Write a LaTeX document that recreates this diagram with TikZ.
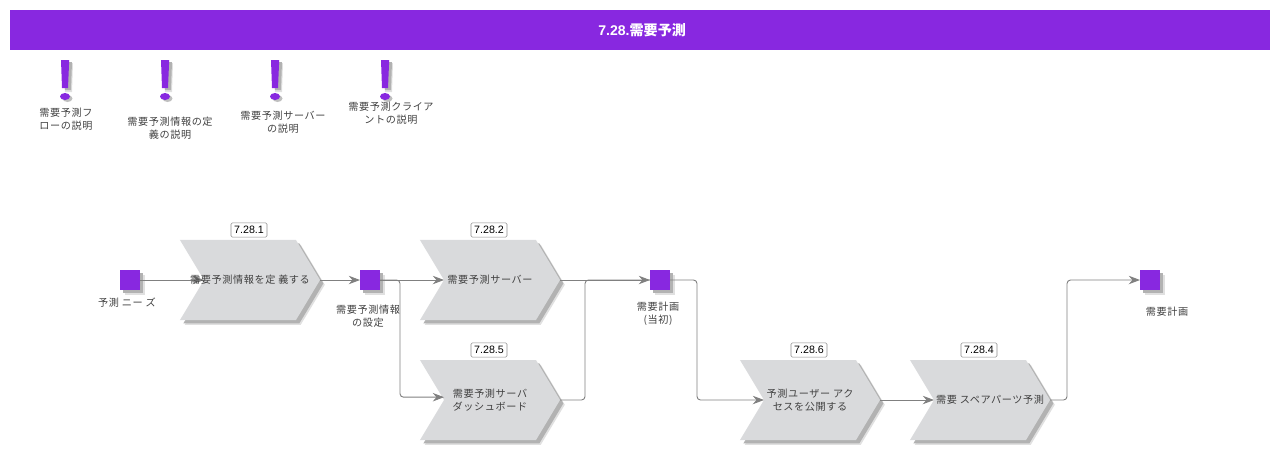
\documentclass[tikz,border=0pt]{standalone}
\usepackage{fontspec}
\setmainfont{Liberation Sans}
\newfontfamily\cjk[LetterSpace=6]{Noto Sans CJK JP}
\newfontfamily\cjktitle{Noto Sans CJK JP}
\usetikzlibrary{shapes.symbols, shadows, arrows.meta}
\definecolor{violetfill}{HTML}{8828E0}
\definecolor{chevrongray}{HTML}{D9DADC}
\definecolor{linegray}{HTML}{808080}
\tikzset{
    softshadow/.style={
        general shadow={shadow xshift=3.4pt, shadow yshift=-3.4pt, fill=black!12},
        general shadow={shadow xshift=2.4pt, shadow yshift=-2.4pt, fill=black!30}},
    chevron/.style={signal, signal to=east, signal from=west, signal pointer angle=118,
        fill=chevrongray, softshadow, minimum width=3.5cm, minimum height=2cm,
        inner sep=0pt, outer sep=0pt},
    chevrontext/.style={align=center, inner sep=0pt, font=\cjk\fontsize{7.2}{9.2}\selectfont, text=black!75},
    event/.style={fill=violetfill, softshadow, minimum size=0.5cm, inner sep=0pt, outer sep=0pt},
    caption/.style={align=center, inner sep=0pt},
    tag/.style={draw=black!45, fill=white, rounded corners=1pt, minimum width=0.9cm, minimum height=0.36cm,
        inner sep=0pt, font=\fontsize{7.6}{9}\selectfont, text=black},
    flow/.style={draw=linegray, line width=0.65pt, rounded corners=2.5pt, -{Stealth[length=8pt, width=6pt]}},
    flowplain/.style={draw=linegray, line width=0.65pt, rounded corners=2.5pt}
}
\begin{document}
\begin{tikzpicture}[x=0.025cm, y=-0.025cm, every node/.style={font=\cjk\fontsize{7.2}{9.2}\selectfont, text=black!75}]
    \useasboundingbox (0,0) rectangle (1280,450);

    % Title bar
    \node[fill=violetfill, minimum width=31.5cm, minimum height=1cm, inner sep=0pt, text=white,
        font=\bfseries\fontsize{10}{12}\selectfont] (title) at (640,30) {\hspace{3pt}7.28.{\cjktitle 需要予測}};

    % Exclamation marks
    \foreach \x in {65, 165, 275, 385} {
        \fill[black!12] (\x-2,63) -- (\x+8,63) -- (\x+7,92) -- (\x,92) -- cycle;
        \fill[black!30] (\x-1,62) -- (\x+7,62) -- (\x+6,90) -- (\x,90) -- cycle;
        \fill[black!25] (\x+2.5,98.5) ellipse (5 and 3.5);
        \fill[violetfill] (\x-4,60) -- (\x+4.2,60) -- (\x+3,88) -- (\x-3,88) -- cycle;
        \fill[violetfill] (\x,96.5) ellipse (5 and 3.5);
    }

    % Notes below the marks
    \node[caption] (note1) at (66,119.5) {需要予測フ\\ローの説明};
    \node[caption] (note2) at (170,128.5) {需要予測情報の定\\義の説明};
    \node[caption] (note3) at (283,122.5) {需要予測サーバー\\の説明};
    \node[caption] (note4) at (391,113.5) {需要予測クライア\\ントの説明};

    % Events
    \foreach \x/\name in {130/needs, 370/defined, 660/plan, 1150/planfinal} {
        \node[event] (\name) at (\x,280) {};
    }

    % Event labels
    \node[caption] (needslabel) at (127,303) {予測 ニー ズ};
    \node[caption] (definedlabel) at (368,316.5) {需要予測情報\\の設定};
    \node[caption] (planlabel) at (658,313.5) {需要計画\\(当初)};
    \node[caption] (planfinallabel) at (1167,312) {需要計画};

    % Functions
    \node[chevron] (define) at (250,280) {};
    \node[chevron] (server) at (490,280) {};
    \node[chevron] (board) at (490,400) {};
    \node[chevron] (access) at (810,400) {};
    \node[chevron] (spare) at (980,400) {};

    % Tags
    \foreach \x/\y/\name/\num in {249/230/tagdefine/7.28.1, 489/230/tagserver/7.28.2, 489/350/tagboard/7.28.5, 809/350/tagaccess/7.28.6, 979/350/tagspare/7.28.4} {
        \node[tag] (\name) at (\x,\y) {\num};
    }

    % Connectors
    \draw[flow] (needs.east) -- (define.west);
    \draw[flow] (define.east) -- (defined.west);
    \draw[flow] (defined.east) -- (server.west);
    \draw[flow] (defined.east) -- ++(20,0) |- ([yshift=2pt]board.west);
    \draw[flow] (server.east) -- (plan.west);
    \draw[flowplain] (board.east) -- ++(25,0) |- (plan.west);
    \draw[flow] (plan.east) -- ++(27,0) |- (access.west);
    \draw[flow] (access.east) -- (spare.west);
    \draw[flow] (spare.east) -- ++(17,0) |- (planfinal.west);

    % Function texts
    \node[chevrontext] (definetext) at (250,280) {需要予測情報を定 義する};
    \node[chevrontext] (servertext) at (490,280) {需要予測サーバー};
    \node[chevrontext] (boardtext) at (490,400) {需要予測サーバ\\ダッシュボード};
    \node[chevrontext] (accesstext) at (810,400) {予測ユーザー アク\\セスを公開する};
    \node[chevrontext] (sparetext) at (990,400) {需要 スペアパーツ予測};

\end{tikzpicture}
\end{document}
